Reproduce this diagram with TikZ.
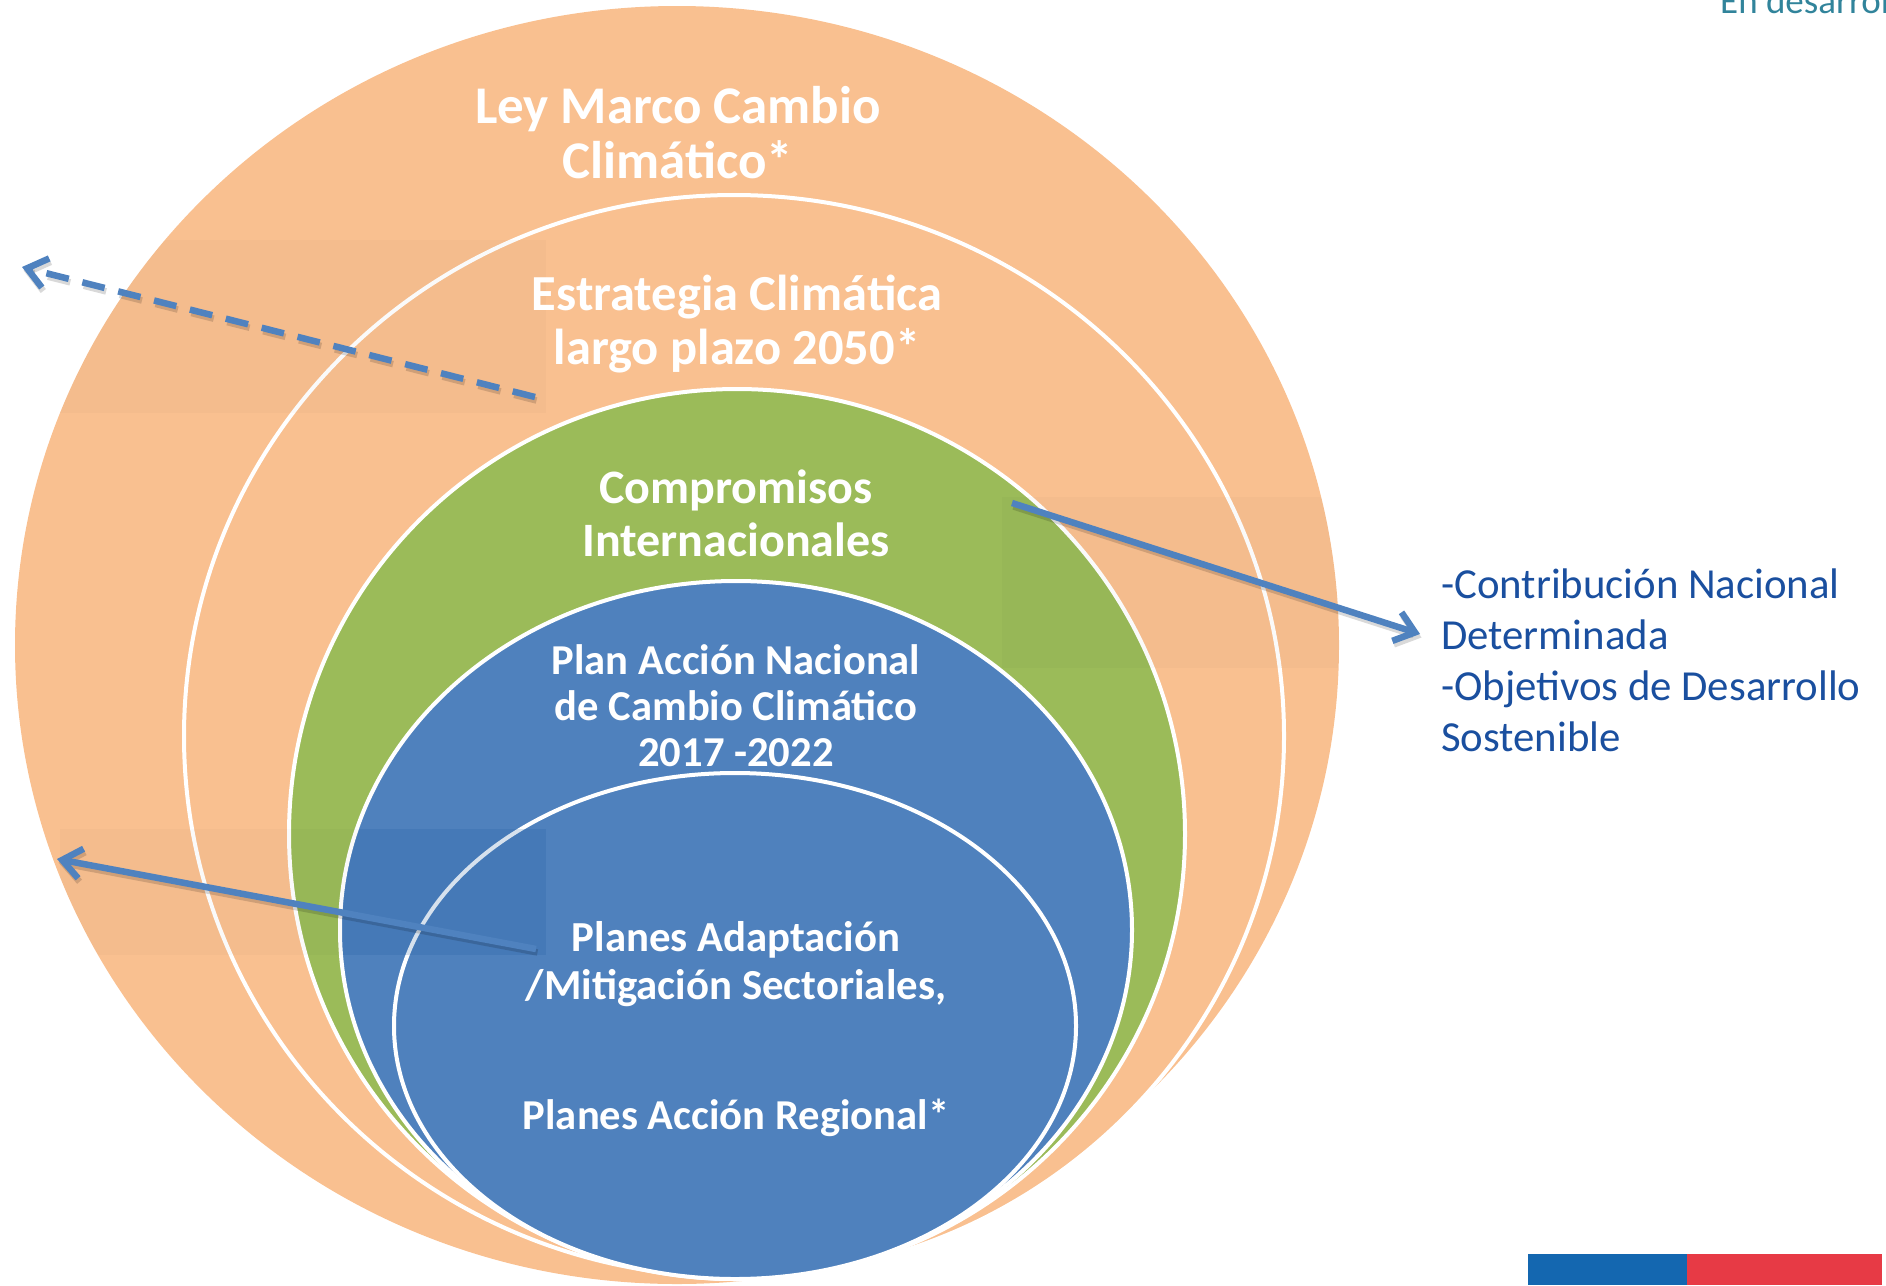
\documentclass[tikz,border=0pt]{standalone}
\usepackage{fontspec}
\setmainfont{Carlito}
\usetikzlibrary{shapes.geometric,arrows.meta}
\definecolor{orng}{HTML}{F9C090}
\definecolor{grn}{HTML}{9BBB59}
\definecolor{blu}{HTML}{4F81BD}
\definecolor{arrc}{HTML}{4F82BF}
\definecolor{rtxt}{HTML}{1A4F9F}
\definecolor{tealtxt}{HTML}{31849B}
\definecolor{flagblue}{HTML}{1467B0}
\definecolor{flagred}{HTML}{E73A45}
\begin{document}
\begin{tikzpicture}[x=1pt,y=-1pt,
  ring/.style={ellipse, draw=white, line width=4pt, inner sep=0pt, outer sep=0pt},
  lbl/.style={text=white, align=center},
  arrowline/.style={draw=arrc, line width=6.5pt, -{Straight Barb[length=19pt,width=30pt]}},
  arrowshadow/.style={arrowline, draw=black, opacity=0.15, transform canvas={shift={(1.5pt,-3.5pt)}}},
  shade/.style={fill=black, opacity=0.02},
  blueshade/.style={fill={rgb,255:red,30;green,100;blue,175}, opacity=0.16}]
\useasboundingbox (0,0) rectangle (1886,1285);
% rings
\node[ring, draw=none, fill=orng, minimum width=1324pt, minimum height=1278pt] (outer) at (677,645) {};
\node[ring, fill=orng, minimum width=1100pt, minimum height=1082pt] (second) at (734,736) {};
\node[ring, fill=grn, minimum width=896pt, minimum height=890pt] (green) at (737,834) {};
\node[ring, fill=blu, minimum width=792pt, minimum height=698pt] (plan) at (736,930) {};
\node[ring, fill=blu, minimum width=682pt, minimum height=506pt] (inner) at (735,1026) {};
% faint image-shadow rectangles
\begin{scope}
\clip (677,645) ellipse [x radius=662pt, y radius=639pt];
\fill[shade] (60,240) rectangle (546,413);
\fill[shade] (1002,497) rectangle (1339,668);
\fill[shade] (60,829) rectangle (546,955);
\end{scope}
\begin{scope}
\clip (736,930) ellipse [x radius=394pt, y radius=347pt];
\fill[blueshade] (60,829) rectangle (546,955);
\end{scope}
% labels
\node[lbl, font=\bfseries\fontsize{53}{55}\selectfont] (ley) at (678,133) {Ley Marco Cambio\\Climático*};
\node[lbl, font=\bfseries\fontsize{50.5}{54}\selectfont] (estr) at (737,324) {Estrategia Climática\\largo plazo 2050*};
\node[lbl, font=\bfseries\fontsize{48}{53}\selectfont] (comp) at (736,513) {Compromisos\\Internacionales};
\node[lbl, font=\bfseries\fontsize{42.6}{46}\selectfont] (pan) at (736,706) {Plan Acción Nacional\\de Cambio Climático\\2017 -2022};
\node[lbl, font=\bfseries\fontsize{42.8}{48}\selectfont] (pams) at (736,964) {Planes Adaptación\\/Mitigación Sectoriales,};
\node[lbl, font=\bfseries\fontsize{42.6}{48}\selectfont] (par) at (736,1118) {Planes Acción Regional*};
\node[text=rtxt, align=left, anchor=west, font=\fontsize{42.8}{51}\selectfont, inner sep=0pt] (ndc) at (1441,660) {-Contribución Nacional\\Determinada\\-Objetivos de Desarrollo\\Sostenible};
\node[text=tealtxt, anchor=base west, font=\fontsize{37}{44}\selectfont, inner sep=0pt] (dev) at (1720,13) {En desarrollo};
% arrows
\coordinate (dashS) at (535,397);
\coordinate (dashE) at (22,267);
\coordinate (a1S) at (1012,503);
\coordinate (a1E) at (1420,634);
\coordinate (a2S) at (536,949);
\coordinate (a2E) at (57,859);
\draw[arrowshadow, dash pattern=on 23pt off 14pt] (dashS) -- (dashE);
\draw[arrowshadow] (a1S) -- (a1E);
\draw[arrowshadow] (a2S) -- (a2E);
\draw[arrowline, dash pattern=on 23pt off 14pt] (dashS) -- (dashE);
\draw[arrowline] (a1S) -- (a1E);
\draw[arrowline] (a2S) -- (a2E);
% flag bar
\fill[flagblue] (1528,1254) rectangle (1687,1285);
\fill[flagred] (1687,1254) rectangle (1882,1285);
\end{tikzpicture}
\end{document}
